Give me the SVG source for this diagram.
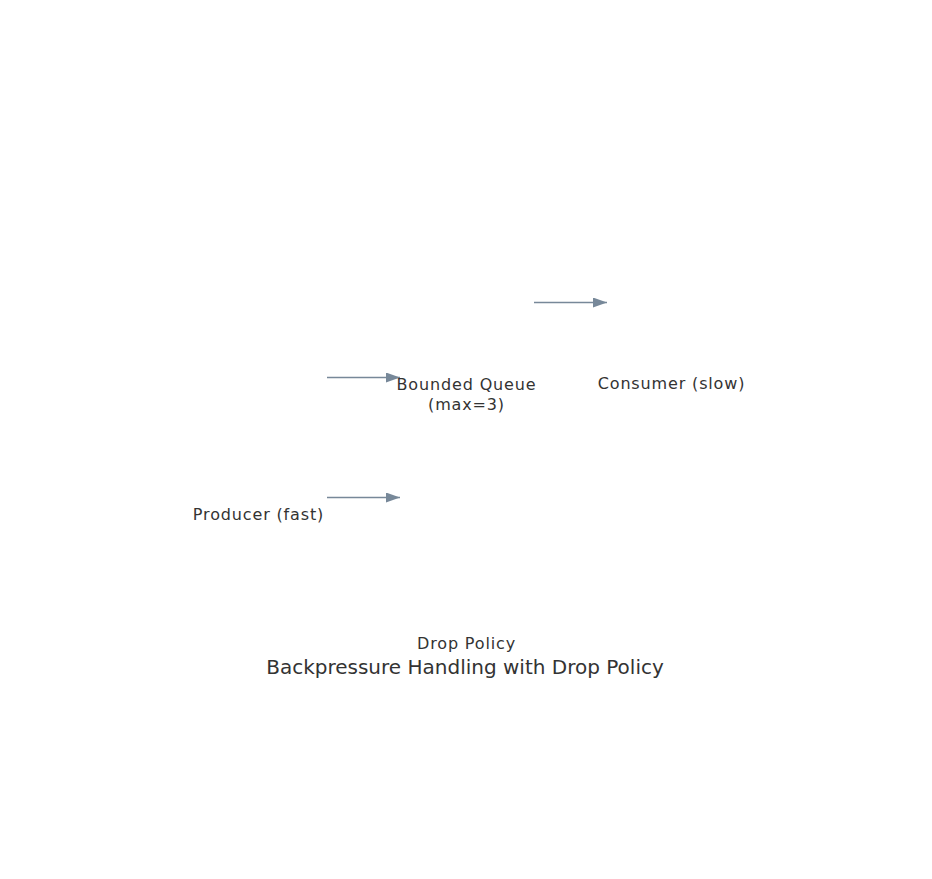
<svg xmlns="http://www.w3.org/2000/svg" width="932" height="879" viewBox="0 0 932 879">
<style>
text{font-family:"DejaVu Sans",sans-serif;fill:#333333;text-anchor:middle}
.lbl{font-size:16px;letter-spacing:0.85px}
.title{font-size:20px}
.edge{stroke:#778899;stroke-width:1.5;fill:none}
</style>
<defs>
<marker id="arr" markerWidth="14" markerHeight="10" refX="14" refY="5" orient="auto" markerUnits="userSpaceOnUse">
<path d="M0,0 L14,5 L0,10 Z" fill="#778899"/>
</marker>
</defs>
<rect width="932" height="879" fill="#ffffff"/>
<g id="connectors">
<line class="edge" x1="327" y1="377.5" x2="400" y2="377.5" marker-end="url(#arr)"/>
<line class="edge" x1="327" y1="497.5" x2="400" y2="497.5" marker-end="url(#arr)"/>
<line class="edge" x1="534" y1="302.5" x2="607" y2="302.5" marker-end="url(#arr)"/>
</g>
<g id="queue"><text class="lbl" x="466.5" y="390">Bounded Queue</text><text class="lbl" x="466.5" y="410">(max=3)</text></g>
<g id="consumer"><text class="lbl" x="671.5" y="389">Consumer (slow)</text></g>
<g id="producer"><text class="lbl" x="258.5" y="520">Producer (fast)</text></g>
<g id="policy"><text class="lbl" x="466.5" y="649">Drop Policy</text></g>
<g id="title"><text class="title" x="465" y="674">Backpressure Handling with Drop Policy</text></g>
</svg>
